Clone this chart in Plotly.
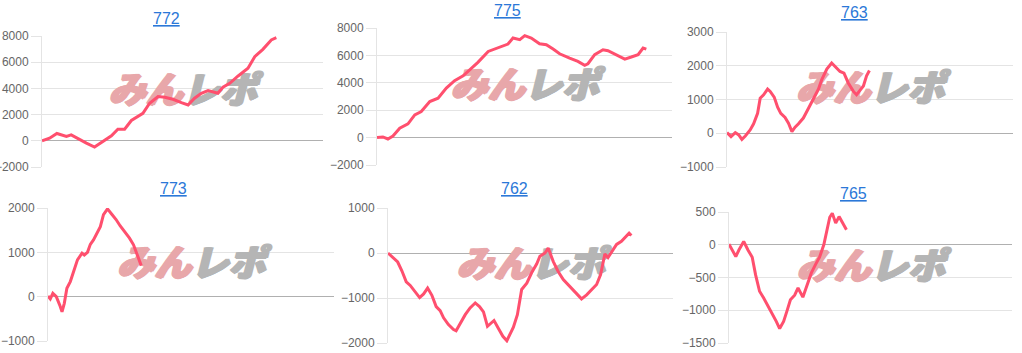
import plotly.graph_objects as go

W, H = 1022, 353

# ---------------- data (x: progress 0-100 along the x axis, y: coin difference) ----------------
titles = ["772", "775", "763", "773", "762", "765"]

x772 = [0, 2.7, 5.3, 8.7, 10.4, 13.4, 15.8, 18.7, 21.7, 24.7, 27.0, 29.4, 31.8, 34.2, 35.9, 38.3,
        41.3, 43.7, 46.6, 49.6, 52.0, 54.3, 56.7, 59.1, 62.6, 64.4, 66.8, 69.8, 73.3, 75.7, 78.6, 81.6, 83.4]
y772 = [0, 200, 560, 330, 450, 80, -180, -480, -50, 380, 890, 890, 1550, 1850, 2100, 2870,
        3380, 3330, 3170, 2920, 2740, 3250, 3630, 3830, 3630, 4090, 4390, 4950, 5540, 6420, 6980, 7700, 7870]

x775 = [0, 2.0, 3.7, 5.4, 7.7, 10.5, 12.8, 15.0, 17.9, 20.7, 23.5, 26.3, 29.2, 31.4, 34.2, 37.7, 40.5,
        43.3, 44.4, 46.1, 48.4, 50.1, 52.3, 55.1, 57.4, 59.7, 61.9, 65.3, 68.1, 70.4, 71.5, 73.8, 76.6,
        78.3, 81.1, 84.0, 86.2, 88.5, 90.2, 91.3]
y775 = [0, 50, -100, 120, 680, 1000, 1660, 1900, 2630, 2880, 3610, 4150, 4510, 4950, 5490, 6290, 6540,
        6780, 6830, 7270, 7150, 7440, 7270, 6850, 6780, 6460, 6120, 5800, 5560, 5270, 5390, 6050, 6410,
        6340, 6050, 5730, 5880, 6050, 6540, 6460]

x763 = [0, 1.4, 2.9, 4.1, 5.2, 6.4, 8.1, 9.3, 10.7, 11.6, 12.8, 14.2, 15.1, 16.5, 17.7, 18.8, 20.3,
        21.5, 22.7, 23.8, 25.0, 26.7, 28.5, 30.2, 32.0, 33.1, 34.9, 36.6, 37.8, 39.5, 40.9, 42.4, 44.2,
        45.3, 46.5, 47.7, 48.8, 49.8]
y763 = [20, -100, 20, -50, -180, -80, 100, 280, 590, 1040, 1140, 1310, 1240, 1070, 770, 590, 470,
        300, 50, 180, 280, 450, 740, 1040, 1310, 1580, 1900, 2080, 1980, 1830, 1780, 1490, 1240,
        1140, 1270, 1400, 1700, 1860]

x773 = [0, 0.8, 1.7, 2.9, 4.1, 4.9, 5.7, 6.6, 7.8, 9.2, 10.3, 11.9, 12.7, 13.8, 14.8, 15.9, 17.1,
        18.3, 19.4, 20.8, 22.3, 23.8, 25.2, 27.0, 28.5, 29.9, 31.3, 32.6]
y773 = [15, -50, 75, 0, -190, -340, -150, 190, 340, 600, 830, 980, 940, 1000, 1180, 1280, 1430,
        1580, 1850, 1980, 1860, 1740, 1600, 1460, 1320, 1170, 910, 700]

x762 = [0, 1.8, 3.4, 4.9, 6.4, 7.8, 9.6, 11.1, 12.5, 13.9, 15.4, 16.9, 18.3, 19.5, 21.2, 23.0, 23.9,
        25.3, 27.1, 28.8, 30.6, 32.1, 33.5, 34.9, 35.8, 37.2, 38.7, 40.3, 41.7, 42.8, 44.0, 45.4, 46.9,
        48.7, 50.4, 52.2, 53.3, 55.1, 56.2, 58.0, 59.7, 61.5, 63.8, 66.2, 67.9, 69.7, 71.4, 73.2, 74.6,
        76.1, 77.2, 78.4, 80.2, 81.9, 83.4, 84.6, 85.4]
y762 = [0, -100, -200, -400, -640, -720, -870, -990, -910, -780, -940, -1190, -1280, -1440, -1590,
        -1700, -1730, -1560, -1370, -1220, -1110, -1190, -1310, -1630, -1580, -1500, -1670, -1850,
        -1950, -1800, -1650, -1370, -810, -670, -440, -240, -70, 0, 110, -190, -410, -590, -740,
        -890, -1020, -930, -810, -700, -480, -20, -100, 20, 190, 260, 370, 440, 390]

x765 = [0, 1.4, 2.4, 3.5, 5.2, 6.7, 8.2, 9.4, 10.8, 12.2, 13.8, 15.3, 16.7, 17.9, 19.3, 20.5, 21.7,
        23.2, 24.4, 26.1, 27.9, 29.1, 30.6, 32.0, 33.5, 34.4, 35.6, 36.5, 37.7, 38.9, 40.0, 41.5]
y765 = [10, -90, -180, -80, 50, -80, -190, -460, -710, -810, -930, -1060, -1170, -1280, -1170,
        -1010, -840, -770, -660, -800, -580, -430, -300, -190, 0, 200, 420, 480, 330, 430, 350, 230]

series_x = [x772, x775, x763, x773, x762, x765]
series_y = [y772, y775, y763, y773, y762, y765]

y_ranges = [(-2000, 8000), (-2000, 8000), (-1000, 3000), (-1000, 2000), (-2000, 1000), (-1500, 500)]
y_dticks = [2000, 2000, 1000, 1000, 1000, 500]
x_range = (0, 100)

# ---------------- layout (pixel boxes of each panel) ----------------
# (left, right, top, bottom) of plotting area, in pixels
boxes = [(42, 323, 36, 167), (377, 672, 28, 165), (727, 1013, 32, 167),
         (48, 334, 208, 341), (388, 673, 208, 343), (729, 1012, 212, 343)]
title_pos = [(166, 18), (507, 10), (854, 13), (173, 188), (514, 188), (853, 193)]

LINE = "#ff4f6e"
GRID = "#e4e4e4"
ZERO = "#b0b0b0"
TICKF = dict(family="Liberation Sans, Arial, sans-serif", size=12, color="#666666")
WM_PINK = "#e8a7aa"
WM_GRAY = "#b5b5b5"

fig = go.Figure()
layout = dict(width=W, height=H, margin=dict(l=0, r=0, t=0, b=0, pad=0, autoexpand=False),
              template="none",
              paper_bgcolor="white", plot_bgcolor="white", showlegend=False,
              annotations=[])

for i in range(6):
    n = "" if i == 0 else str(i + 1)
    xa, ya = "x" + n, "y" + n
    l, r, t, b = boxes[i]
    y0, y1 = y_ranges[i]
    # watermark (drawn first, so the line goes over it)
    wx = (x_range[0] + x_range[1]) / 2
    wy = y0 + 0.56 * (y1 - y0)
    for txt, pos, col in (("みん", "middle left", WM_PINK), ("レポ", "middle right", WM_GRAY)):
        fig.add_trace(go.Scatter(
            x=[wx], y=[wy], mode="text", xaxis=xa, yaxis=ya,
            text=[txt], textposition=pos,
            textfont=dict(family="Noto Sans CJK JP", size=37, weight=900, style="italic",
                          color=col,
                          shadow=f"1px 0 0 {col}, -1px 0 0 {col}, 0 1px 0 {col}, 2px 0 0 {col}"),
            hoverinfo="skip"))
    fig.add_trace(go.Scatter(
        x=series_x[i], y=series_y[i], mode="lines", xaxis=xa, yaxis=ya,
        line=dict(color=LINE, width=3), hoverinfo="skip"))
    layout["xaxis" + n] = dict(domain=[l / W, r / W], range=list(x_range), anchor=ya,
                               showgrid=False, zeroline=False, showticklabels=False,
                               showline=False, ticks="", fixedrange=True, automargin=False)
    layout["yaxis" + n] = dict(domain=[1 - b / H, 1 - t / H], range=[y0, y1], anchor=xa,
                               dtick=y_dticks[i], tick0=0, showgrid=True, gridcolor=GRID,
                               gridwidth=1, zeroline=True, zerolinecolor=ZERO, zerolinewidth=1,
                               showline=True, linecolor=GRID, linewidth=1,
                               ticks="outside", ticklen=10, tickcolor=GRID,
                               tickfont=TICKF, tickformat="d", fixedrange=True, automargin=False)
    tx, ty = title_pos[i]
    layout["annotations"].append(dict(
        text="<u>" + titles[i] + "</u>", x=tx / W, y=1 - ty / H, xref="paper", yref="paper",
        showarrow=False, xanchor="center", yanchor="middle",
        font=dict(family="Liberation Sans, Arial, sans-serif", size=16, color="#2b78d8")))

fig.update_layout(**layout)
fig.write_html("out.html")
